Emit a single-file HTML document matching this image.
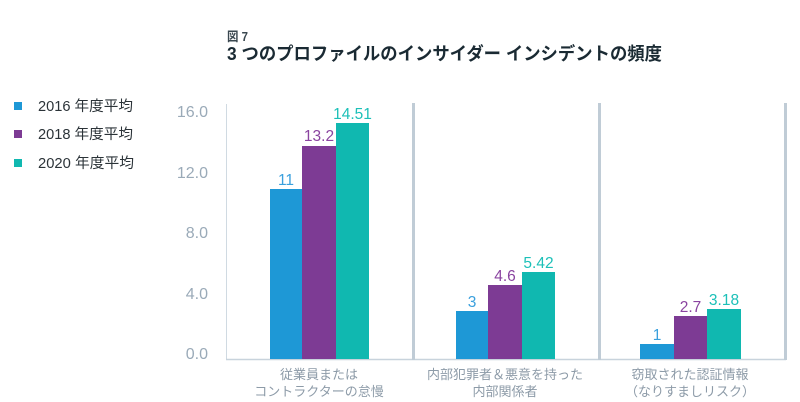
<!DOCTYPE html>
<html><head><meta charset="utf-8"><style>
html,body{margin:0;padding:0;background:#fff;}
svg{display:block;}
text{font-family:"Liberation Sans","Noto Sans CJK JP",sans-serif;}
</style></head><body>
<svg width="800" height="402" viewBox="0 0 800 402" xmlns="http://www.w3.org/2000/svg">
<text x="227" y="41" font-size="13" font-weight="bold" fill="#3a4850" textLength="21" lengthAdjust="spacingAndGlyphs">図 7</text>
<text x="227" y="60" font-size="18" font-weight="bold" fill="#1a2a33" textLength="435" lengthAdjust="spacingAndGlyphs">3 つのプロファイルのインサイダー インシデントの頻度</text>

<!-- legend -->
<rect x="14" y="102" width="8" height="8" fill="#1e98d6"/>
<text x="38" y="111" font-size="14.5" fill="#2b3338" textLength="95" lengthAdjust="spacingAndGlyphs">2016 年度平均</text>
<rect x="14" y="130" width="8" height="8" fill="#7d3b94"/>
<text x="38" y="139" font-size="14.5" fill="#2b3338" textLength="95" lengthAdjust="spacingAndGlyphs">2018 年度平均</text>
<rect x="14" y="159" width="8" height="8" fill="#10b8b0"/>
<text x="38" y="168" font-size="14.5" fill="#2b3338" textLength="96" lengthAdjust="spacingAndGlyphs">2020 年度平均</text>

<!-- y ticks -->
<g font-size="16" fill="#9aaab8" text-anchor="end">
<text x="208" y="117">16.0</text>
<text x="208" y="178">12.0</text>
<text x="208" y="238">8.0</text>
<text x="208" y="299">4.0</text>
<text x="208" y="359">0.0</text>
</g>

<!-- axes -->
<line x1="226.5" y1="104" x2="226.5" y2="359" stroke="#d0dae2" stroke-width="1"/>
<line x1="226" y1="359.5" x2="786" y2="359.5" stroke="#c8d3dc" stroke-width="1.5"/>
<rect x="412" y="103" width="3" height="257" fill="#c0ccd6"/>
<rect x="598" y="103" width="3" height="257" fill="#c0ccd6"/>
<rect x="784" y="103" width="3" height="257" fill="#c0ccd6"/>

<!-- group 1 -->
<rect x="270" y="189" width="32" height="170" fill="#1e98d6"/>
<rect x="302" y="146" width="34" height="213" fill="#7d3b94"/>
<rect x="336" y="123" width="33" height="236" fill="#10b8b0"/>
<!-- group 2 -->
<rect x="456" y="311" width="32" height="48" fill="#1e98d6"/>
<rect x="488" y="285" width="34" height="74" fill="#7d3b94"/>
<rect x="522" y="272" width="33" height="87" fill="#10b8b0"/>
<!-- group 3 -->
<rect x="640" y="344" width="34" height="15" fill="#1e98d6"/>
<rect x="674" y="316" width="33" height="43" fill="#7d3b94"/>
<rect x="707" y="309" width="34" height="50" fill="#10b8b0"/>

<!-- value labels -->
<g font-size="15.5" text-anchor="middle">
<text x="286" y="185" fill="#3aa0dd">11</text>
<text x="319" y="141" fill="#8a44a0">13.2</text>
<text x="352.5" y="119" fill="#1cc0b8">14.51</text>
<text x="472" y="307" fill="#3aa0dd">3</text>
<text x="505" y="281" fill="#8a44a0">4.6</text>
<text x="538.5" y="268" fill="#1cc0b8">5.42</text>
<text x="657" y="340" fill="#3aa0dd">1</text>
<text x="690.5" y="312" fill="#8a44a0">2.7</text>
<text x="724" y="305" fill="#1cc0b8">3.18</text>
</g>

<!-- category labels -->
<g font-size="13" fill="#8d9ba8" text-anchor="middle">
<text x="319" y="379">従業員または</text>
<text x="319" y="396">コントラクターの怠慢</text>
<text x="505" y="379">内部犯罪者＆悪意を持った</text>
<text x="505" y="396">内部関係者</text>
<text x="690" y="379">窃取された認証情報</text>
<text x="690" y="396">（なりすましリスク）</text>
</g>
</svg>
</body></html>
